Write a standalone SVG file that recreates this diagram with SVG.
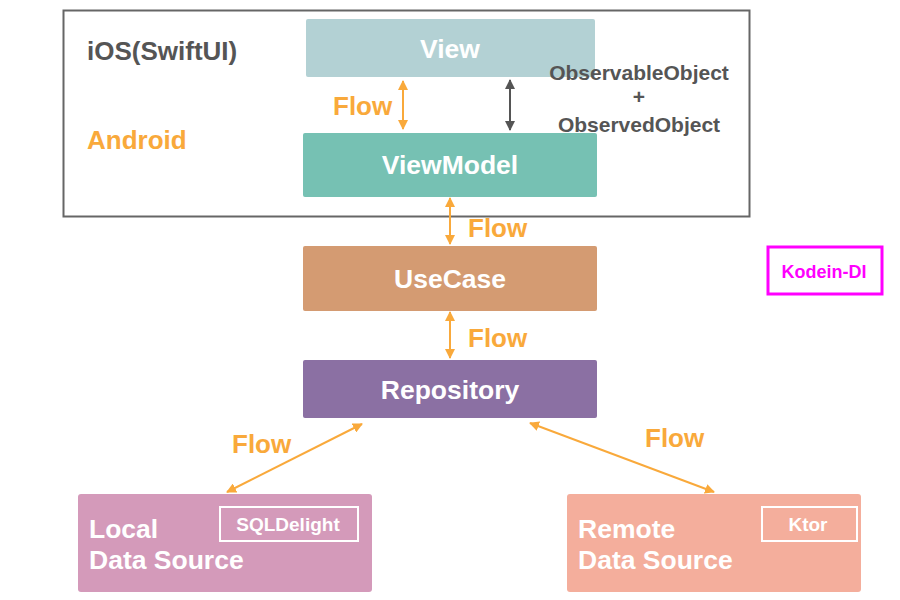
<svg xmlns="http://www.w3.org/2000/svg" width="900" height="600" viewBox="0 0 900 600">
<defs>
<marker id="ao" viewBox="0 0 10 10" refX="9" refY="5" markerWidth="10" markerHeight="10" markerUnits="userSpaceOnUse" orient="auto-start-reverse"><path d="M0,0 L10,5 L0,10 z" fill="#f9a93b"/></marker>
<marker id="ag" viewBox="0 0 10 10" refX="9" refY="5" markerWidth="10" markerHeight="10" markerUnits="userSpaceOnUse" orient="auto-start-reverse"><path d="M0,0 L10,5 L0,10 z" fill="#555555"/></marker>
</defs>
<style>
text{font-family:"Liberation Sans",Arial,sans-serif;font-weight:bold}
.n{fill:#fff;font-size:26.5px;text-anchor:middle}
.big{fill:#fff;font-size:26.5px}
.fl{fill:#f9a93b;font-size:26px}
.gr{fill:#555;font-size:21px;text-anchor:middle}
.c{stroke:#f9a93b;stroke-width:2;fill:none}
</style>
<rect width="900" height="600" fill="#fff"/>
<g id="platform">
<rect x="63.5" y="10.5" width="686" height="206" fill="none" stroke="#666" stroke-width="2"/>
<text x="87" y="60" style="fill:#555;font-size:26px">iOS(SwiftUI)</text>
<text x="87" y="149" style="fill:#f9a93b;font-size:26px">Android</text>
</g>
<g id="view"><rect x="306" y="19" width="289" height="58" rx="2" fill="#b3d1d4"/><text class="n" x="450" y="58">View</text></g>
<g id="viewmodel"><rect x="303" y="133" width="294" height="64" rx="2" fill="#76c1b3"/><text class="n" x="450" y="174">ViewModel</text></g>
<g id="usecase"><rect x="303" y="246" width="294" height="65" rx="2" fill="#d49b72"/><text class="n" x="450" y="288">UseCase</text></g>
<g id="repository"><rect x="303" y="360" width="294" height="58" rx="2" fill="#8b70a3"/><text class="n" x="450" y="399">Repository</text></g>
<g id="local"><rect x="78" y="494" width="294" height="98" rx="3" fill="#d49aba"/><text class="big" x="89" y="538">Local</text><text class="big" x="89" y="569">Data Source</text><rect x="220" y="507" width="138" height="34" fill="none" stroke="#fff" stroke-width="2"/><text x="288" y="531" style="fill:#fff;font-size:19px;text-anchor:middle">SQLDelight</text></g>
<g id="remote"><rect x="567" y="494" width="294" height="98" rx="3" fill="#f4ae9c"/><text class="big" x="578" y="538">Remote</text><text class="big" x="578" y="569">Data Source</text><rect x="762" y="507" width="95" height="34" fill="none" stroke="#fff" stroke-width="2"/><text x="808" y="531" style="fill:#fff;font-size:19px;text-anchor:middle">Ktor</text></g>
<g id="kodein"><rect x="768" y="247" width="114" height="47" fill="none" stroke="#ff00ff" stroke-width="3"/><text x="824" y="278" style="fill:#ff00ff;font-size:18px;text-anchor:middle">Kodein-DI</text></g>
<g id="connectors">
<line class="c" x1="403" y1="81" x2="403" y2="129" marker-start="url(#ao)" marker-end="url(#ao)"/>
<line x1="510" y1="80" x2="510" y2="130" stroke="#555" stroke-width="2" marker-start="url(#ag)" marker-end="url(#ag)"/>
<line class="c" x1="450" y1="198" x2="450" y2="244" marker-start="url(#ao)" marker-end="url(#ao)"/>
<line class="c" x1="450" y1="312" x2="450" y2="358" marker-start="url(#ao)" marker-end="url(#ao)"/>
<line class="c" x1="362" y1="424" x2="227" y2="492" marker-start="url(#ao)" marker-end="url(#ao)"/>
<line class="c" x1="530" y1="423" x2="714" y2="492" marker-start="url(#ao)" marker-end="url(#ao)"/>
<text class="fl" x="333" y="115">Flow</text>
<text class="fl" x="468" y="237">Flow</text>
<text class="fl" x="468" y="347">Flow</text>
<text class="fl" x="232" y="453">Flow</text>
<text class="fl" x="645" y="447">Flow</text>
<text class="gr" x="639" y="80">ObservableObject</text>
<text class="gr" x="639" y="104">+</text>
<text class="gr" x="639" y="132">ObservedObject</text>
</g>
</svg>
